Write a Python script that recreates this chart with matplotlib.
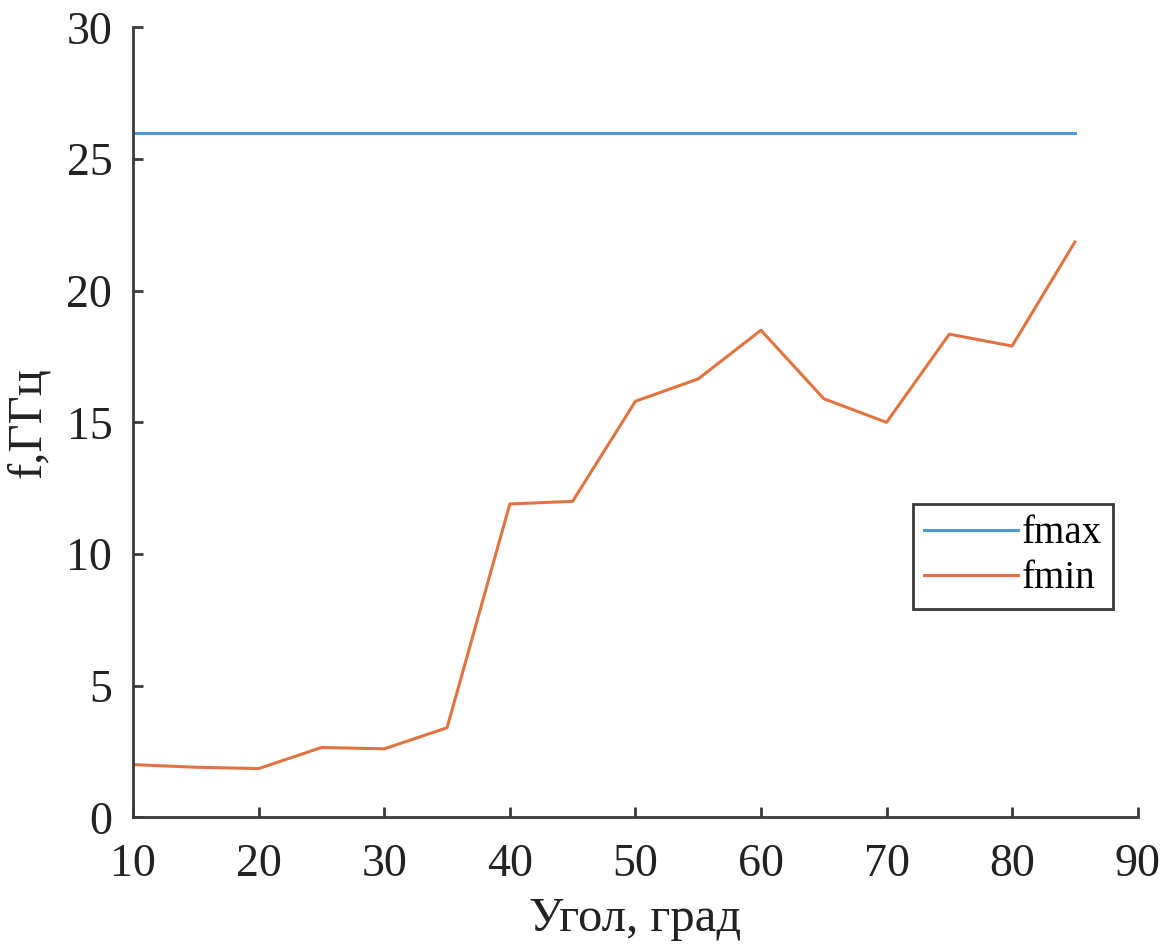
#!/usr/bin/env python3
import matplotlib
matplotlib.use('Agg')
import matplotlib.pyplot as plt

# angle, degrees
angle = [10, 15, 20, 25, 30, 35, 40, 45, 50, 55, 60, 65, 70, 75, 80, 85]
# frequencies, GHz
fmax = [26.0] * len(angle)
fmin = [2.0, 1.9, 1.85, 2.65, 2.6, 3.4, 11.9, 12.0, 15.8, 16.65,
        18.5, 15.9, 15.0, 18.35, 17.9, 21.85]

xticks = [10, 20, 30, 40, 50, 60, 70, 80, 90]
yticks = [0, 5, 10, 15, 20, 25, 30]

plt.rcParams['font.family'] = ['Liberation Serif', 'DejaVu Serif']
plt.rcParams['xtick.direction'] = 'in'
plt.rcParams['ytick.direction'] = 'in'

fig = plt.figure(figsize=(11.68, 9.47), dpi=100)
ax = fig.add_axes([0.114, 0.137, 0.860, 0.834])

ax.plot(angle, fmax, color='#4a9bd6', lw=2.2, label='fmax')
ax.plot(angle, fmin, color='#e2733f', lw=2.2, label='fmin')

ax.set_xlim(10, 90)
ax.set_ylim(0, 30)
ax.set_xticks(xticks)
ax.set_yticks(yticks)

for s in ['top', 'right']:
    ax.spines[s].set_visible(False)
for s in ['left', 'bottom']:
    ax.spines[s].set_color('#3a3a3a')
    ax.spines[s].set_linewidth(2.0)

ax.tick_params(direction='in', length=7, width=2.0, color='#3a3a3a',
               labelsize=33, labelcolor='#222222')
ax.tick_params(axis='x', pad=19)
ax.tick_params(axis='y', pad=15)

ax.set_xlabel('Угол, град', fontsize=35, color='#222222', labelpad=8)
ax.set_ylabel('f,ГГц', fontsize=35, color='#222222', labelpad=12)

leg = ax.legend(loc='upper left', bbox_to_anchor=(0.776, 0.397),
                borderaxespad=0, fontsize=28, handlelength=2.4,
                handletextpad=0.1, labelspacing=0.2, borderpad=0.3,
                fancybox=False, framealpha=1)
leg.get_frame().set_edgecolor('#3a3a3a')
leg.get_frame().set_linewidth(2.0)

fig.savefig('out.png', dpi=100)
